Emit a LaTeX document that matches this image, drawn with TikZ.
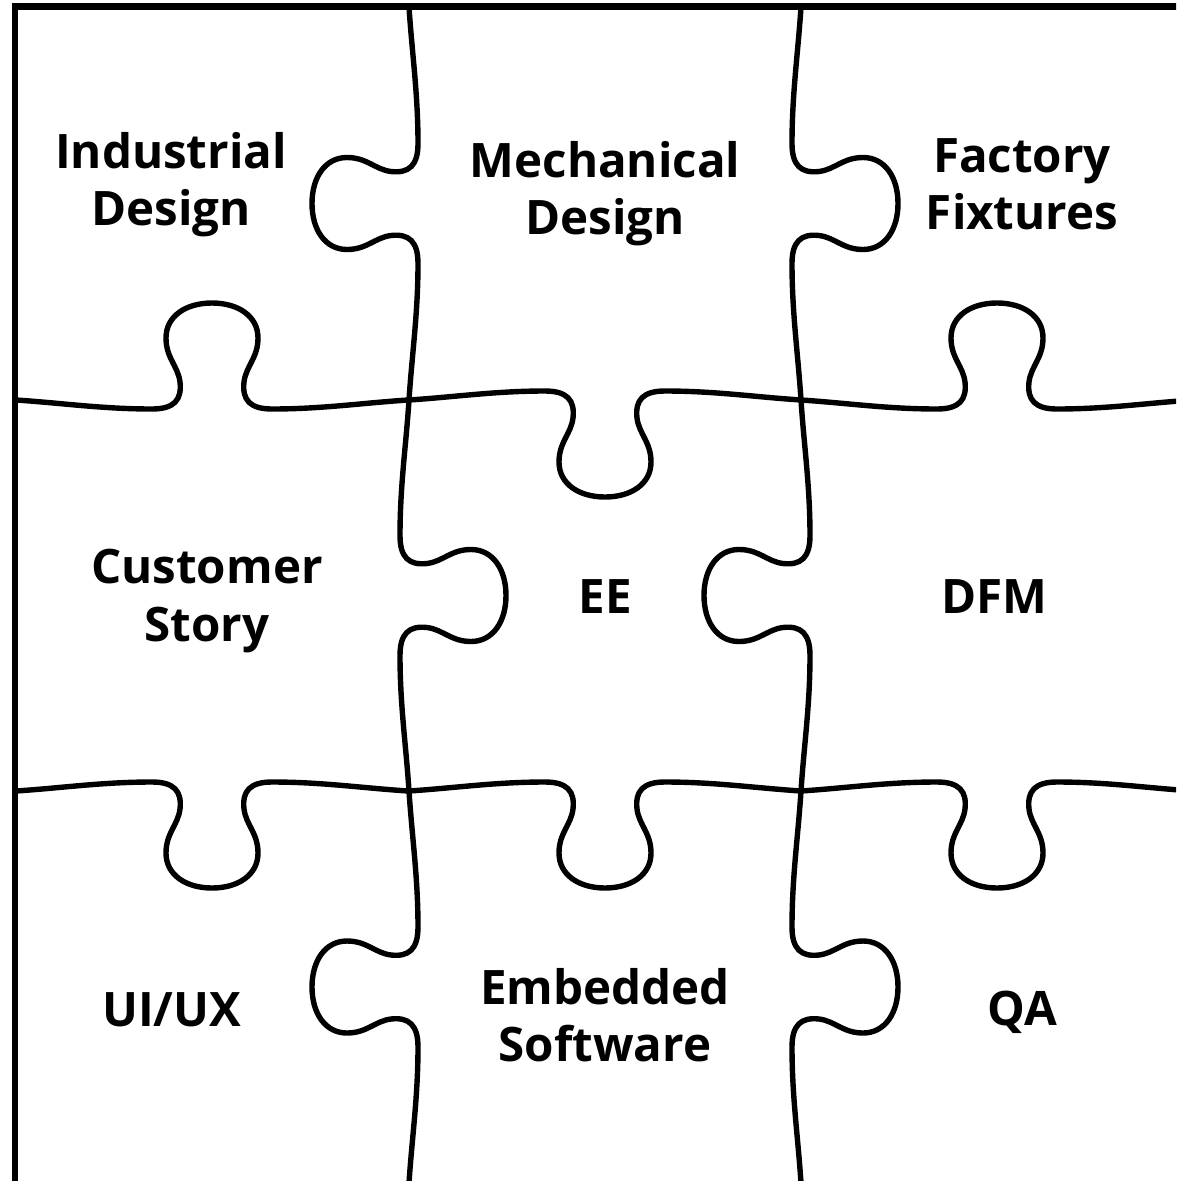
\documentclass[tikz,border=0pt]{standalone}
\usepackage{fontspec}
\setmainfont{Open Sans}
% one puzzle edge: centre, orientation, half length; the tab bulges towards local +y
\newcommand\pzedge[3]{%
  \draw[pzline, shift={#1}, #2] (-#3,0)
    .. controls (-#3+46,-3) and (-110,-9) .. (-60,-9)
    .. controls (-38,-9) and (-30,0) .. (-32,18)
    .. controls (-34,34) and (-46,42) .. (-46,62)
    .. controls (-46,84) and (-26,97) .. (0,97)
    .. controls (26,97) and (46,84) .. (46,62)
    .. controls (46,42) and (34,34) .. (32,18)
    .. controls (30,0) and (38,-9) .. (60,-9)
    .. controls (110,-9) and (#3-46,-3) .. (#3,0);}
\newcommand\twolines[2]{\begin{tabular}[t]{@{}c@{}}#1\\#2\end{tabular}}
\begin{document}
\begin{tikzpicture}[x=1pt,y=1pt,
  pzline/.style={line width=5.4pt, line join=round, line cap=round},
  frame/.style={line width=6.5pt, line join=miter},
  lbl/.style={anchor=base, inner sep=0pt, font=\fontsize{47.5}{57.6}\selectfont\bfseries}]
\useasboundingbox (0,0) rectangle (1176,-1181);
\begin{scope}
  \clip (0,0) rectangle (1176,-1181);
  % horizontal seams
  \pzedge{(212,-400)}{}{196}
  \pzedge{(605,-400)}{yscale=-1}{196}
  \pzedge{(997,-400)}{}{196}
  \pzedge{(212,-791)}{yscale=-1}{196}
  \pzedge{(605,-791)}{yscale=-1}{196}
  \pzedge{(997,-791)}{yscale=-1}{196}
  % vertical seams
  \pzedge{(409,-203.5)}{rotate=90}{196.5}
  \pzedge{(409,-595.5)}{rotate=-90}{195.5}
  \pzedge{(409,-987)}{rotate=90}{196}
  \pzedge{(801,-203.5)}{rotate=-90}{196.5}
  \pzedge{(801,-595.5)}{rotate=90}{195.5}
  \pzedge{(801,-987)}{rotate=-90}{196}
  % outer frame, left and top
  \draw[frame] (15,-1190) -- (15,-6.5) -- (1190,-6.5);
\end{scope}
% piece labels
\node[lbl] (id)  at (171,-168)    {\twolines{Industrial}{Design}};
\node[lbl] (md)  at (605,-177)    {\twolines{Mechanical}{Design}};
\node[lbl] (ff)  at (1022,-172)   {\twolines{Factory}{Fixtures}};
\node[lbl] (cs)  at (207,-583.6)  {\twolines{Customer}{Story}};
\node[lbl] (ee)  at (605,-613.5)  {EE};
\node[lbl] (dfm) at (994.5,-613.5){DFM};
\node[lbl] (ui)  at (171.7,-1026.8){UI/UX};
\node[lbl] (es)  at (605,-1004)   {\twolines{Embedded}{Software}};
\node[lbl] (qa)  at (1022,-1025)  {QA};
\end{tikzpicture}
\end{document}
